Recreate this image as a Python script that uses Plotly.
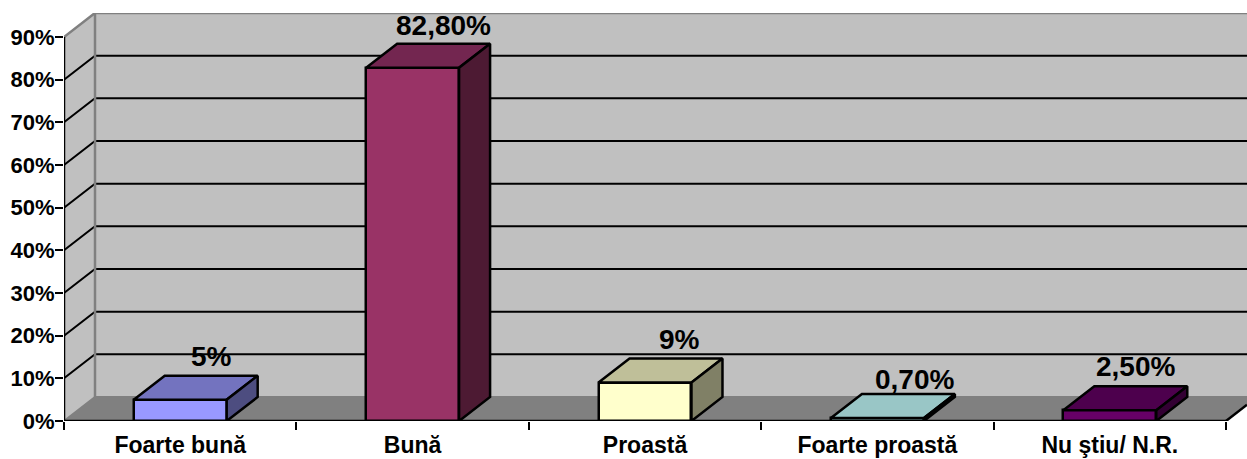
import plotly.graph_objects as go

categories = ["Foarte bună", "Bună", "Proastă", "Foarte proastă", "Nu ştiu/ N.R."]
values = [5, 82.8, 9, 0.7, 2.5]
value_labels = ["5%", "82,80%", "9%", "0,70%", "2,50%"]
y_ticks = [0, 10, 20, 30, 40, 50, 60, 70, 80, 90]
y_tick_labels = ["0%", "10%", "20%", "30%", "40%", "50%", "60%", "70%", "80%", "90%"]

front_colors = ["#9999FF", "#993366", "#FFFFCC", "#99C6C6", "#660066"]
top_colors = ["#7373BF", "#732650", "#BFBF99", "#99C6C6", "#4D004D"]
side_colors = ["#4D4D80", "#4D1A33", "#808066", "#4D6666", "#330033"]
label_nudges = [(0, 2), (0, 1), (3, 2), (6, -3), (-5, 2)]

WIDTH, HEIGHT = 1247, 459
L, T, B = 64, 13, 38
n = len(categories)
ymax = 90
PX_PER_CAT = 232.4
PX_PER_PCT = 42.67 / 10
DX = 31 / PX_PER_CAT   # depth expressed in category units
DY = 24 / PX_PER_PCT   # depth expressed in percent units
XEND = (WIDTH - L) / PX_PER_CAT
YEND = (HEIGHT - T - B) / PX_PER_PCT
BW = 0.4
FONT = "Liberation Sans"

fig = go.Figure()


def poly(xs, ys, fill, line="rgba(0,0,0,0)", w=0, axes=("x", "y")):
    fig.add_trace(go.Scatter(
        x=xs + xs[:1], y=ys + ys[:1], mode="lines", fill="toself", fillcolor=fill,
        line=dict(color=line, width=w), cliponaxis=False, hoverinfo="skip",
        showlegend=False, xaxis=axes[0], yaxis=axes[1]))


def seg(xs, ys, color, w=2):
    fig.add_trace(go.Scatter(
        x=xs, y=ys, mode="lines", line=dict(color=color, width=w), cliponaxis=False,
        hoverinfo="skip", showlegend=False))


# walls and floor
poly([DX, XEND, XEND, DX], [DY, DY, ymax + DY, ymax + DY], "#C0C0C0")
poly([0, DX, DX, 0], [0, DY, ymax + DY, ymax], "#C0C0C0")
poly([0, XEND, XEND, DX], [0, 0, DY, DY], "#808080")
poly([n, XEND, XEND], [0, 0, (XEND - n) / DX * DY], "#FFFFFF")

# gridlines
for t in y_ticks[1:-1]:
    seg([0, DX, XEND], [t, t + DY, t + DY], "#000000", 2)
# wall edges
seg([0, DX, XEND], [ymax, ymax + DY, ymax + DY], "#808080", 2.5)
seg([DX, DX], [DY, ymax + DY], "#808080", 2.5)
seg([0, DX, XEND], [0, DY, DY], "#808080", 2)
seg([n, XEND], [0, (XEND - n) / DX * DY], "#000000", 2.5)
# axis lines, stopping where the reference stops
seg([0, 0], [0, ymax], "#000000", 2.5)
seg([0, n], [0, 0], "#000000", 2.5)

# bars on an overlay subplot, so they paint over the walls
centers = [i + 0.5 for i in range(n)]
fig.add_trace(go.Bar(
    x=centers, y=values, width=BW, marker=dict(color=front_colors, line=dict(color="#000000", width=2.5)),
    xaxis="x2", yaxis="y2", showlegend=False, cliponaxis=False,
    hovertemplate="%{y}%<extra></extra>"))
for c, v, tc, sc in zip(centers, values, top_colors, side_colors):
    x0, x1 = c - BW / 2, c + BW / 2
    poly([x0, x1, x1 + DX, x0 + DX], [v, v, v + DY, v + DY], tc, "#000000", 2.5, ("x2", "y2"))
    poly([x1, x1 + DX, x1 + DX, x1], [0, DY, v + DY, v], sc, "#000000", 2.5, ("x2", "y2"))

annotations = [
    dict(x=c + DX, y=v + DY, xref="x2", yref="y2", text=t, showarrow=False, yanchor="bottom",
         xanchor="center", xshift=nx, yshift=ny,
         font=dict(family=FONT, size=28, color="#000000", weight=700))
    for c, v, t, (nx, ny) in zip(centers, values, value_labels, label_nudges)
]

fig.update_layout(
    width=WIDTH, height=HEIGHT, margin=dict(l=L, r=0, t=T, b=B, pad=0, autoexpand=False),
    paper_bgcolor="#FFFFFF", plot_bgcolor="rgba(0,0,0,0)", bargap=0, annotations=annotations,
    xaxis=dict(
        range=[0, XEND], tickvals=centers, ticktext=categories, showgrid=False, zeroline=False,
        showline=False, ticks="outside", ticklen=3, automargin=False,
        tickcolor="rgba(0,0,0,0)", tickfont=dict(family=FONT, size=23, color="#000000", weight=700),
        minor=dict(tickvals=list(range(n + 1)), ticks="outside", ticklen=8, tickcolor="#000000", tickwidth=2),
    ),
    yaxis=dict(
        range=[0, YEND], tickvals=y_ticks, ticktext=y_tick_labels, showgrid=False, zeroline=False,
        showline=False, ticks="outside", ticklen=8, automargin=False, ticklabelstandoff=-4,
        tickcolor="#000000", tickwidth=2,
        tickfont=dict(family=FONT, size=22, color="#000000", weight=700),
    ),
    xaxis2=dict(range=[0, XEND], overlaying="x", anchor="y2", visible=False),
    yaxis2=dict(range=[0, YEND], overlaying="y", anchor="x2", visible=False),
)

fig.write_html("out.html", config=dict(displayModeBar=False),
               post_script="document.body.style.margin='0';document.body.style.overflow='hidden';")
